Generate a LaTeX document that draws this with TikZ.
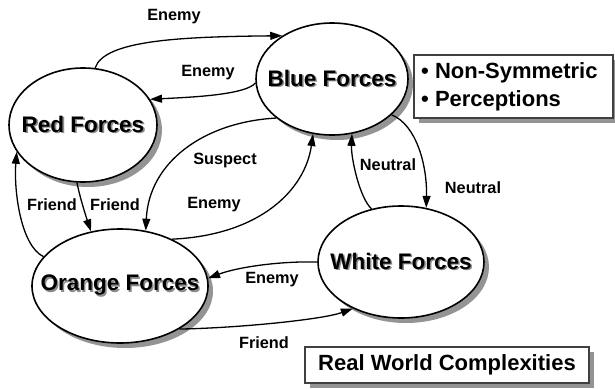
\documentclass[tikz,border=0pt]{standalone}
\usepackage{fontspec}
\setmainfont{Liberation Sans}
\usetikzlibrary{shapes.geometric,shadows,arrows.meta}
\newcommand\shtext[1]{\makebox[0pt][l]{\hspace{1.6pt}\raisebox{-1.6pt}{\color{black!45}#1}}#1}
\newcommand\fl[1]{\makebox[0pt]{\shtext{#1}}}
\begin{document}
\begin{tikzpicture}[x=1pt,y=-1pt,
  force/.style={ellipse,draw,line width=1.6pt,fill=white,inner sep=0pt,
    font=\fontsize{22.5}{26}\selectfont\bfseries,
    drop shadow={shadow xshift=5pt,shadow yshift=-5pt,fill=black!42,opacity=1}},
  lbl/.style={font=\fontsize{16.3}{19}\selectfont\bfseries,inner sep=0pt},
  conn/.style={line width=1.3pt,-{Triangle[length=12pt,width=8pt]}},
  infobox/.style={draw=black!75,line width=1.1pt,fill=white,inner sep=0pt,
    font=\fontsize{22}{28}\selectfont\bfseries,
    drop shadow={shadow xshift=5pt,shadow yshift=-5pt,fill=black!42,opacity=1}}]
\useasboundingbox (0,0) rectangle (615,388);
\node[force,minimum width=148pt,minimum height=114pt] (red) at (83,125) {\fl{Red Forces}};
\node[force,minimum width=152pt,minimum height=112pt] (blue) at (332,79) {\fl{Blue Forces}};
\node[force,minimum width=176pt,minimum height=114pt] (orange) at (120,286) {\fl{Orange Forces}};
\node[force,minimum width=166pt,minimum height=112pt] (white) at (401,262) {\fl{White Forces}};
\node[infobox,minimum width=199pt,minimum height=63pt] (ns) at (513.5,86.5) {};
\node[font=\fontsize{22}{28}\selectfont\bfseries,anchor=west,align=left,inner sep=0pt] (nstext) at (421,86.5) {• Non-Symmetric\\• Perceptions};
\node[infobox,minimum width=284pt,minimum height=36pt] (rw) at (447,365) {Real World Complexities};
% edges
\draw[conn] (red.78) .. controls +(9,-28) and +(-100,1) .. (blue.139);
\draw[conn] (blue.183) .. controls +(-10,12) and +(40,-2) .. (red.21);
\draw[conn] (blue.215) .. controls +(-73,4) and +(3,-68) .. (orange.65);
\draw[conn] (orange.42) .. controls +(88,-4) and +(-8,56) .. (blue.251);
\draw[conn] (orange.159) .. controls +(-23,-11) and +(-3,38) .. (red.202);
\draw[conn] (red.264) .. controls +(3,15) and +(-5,-15) .. (orange.118);
\draw[conn] (white.180) .. controls +(-38,-1) and +(29,-11) .. (orange.5);
\draw[conn] (orange.324) .. controls +(59,-1) and +(-30,11) .. (white.224);
\draw[conn] (white.119) .. controls +(-12,-11) and +(-1,24) .. (blue.290);
\draw[conn] (blue.329) .. controls +(25,10) and +(1,-42) .. (white.65);
% labels
\node[lbl] (l1) at (174,17) {Enemy};
\node[lbl] (l2) at (208,73) {Enemy};
\node[lbl] (l3) at (225,160) {Suspect};
\node[lbl] (l4) at (52,205) {Friend};
\node[lbl] (l5) at (115,205) {Friend};
\node[lbl] (l6) at (214,205) {Enemy};
\node[lbl] (l7) at (272,280) {Enemy};
\node[lbl] (l8) at (264,343) {Friend};
\node[lbl] (l9) at (388,165) {Neutral};
\node[lbl] (l10) at (473,188) {Neutral};
\end{tikzpicture}
\end{document}
